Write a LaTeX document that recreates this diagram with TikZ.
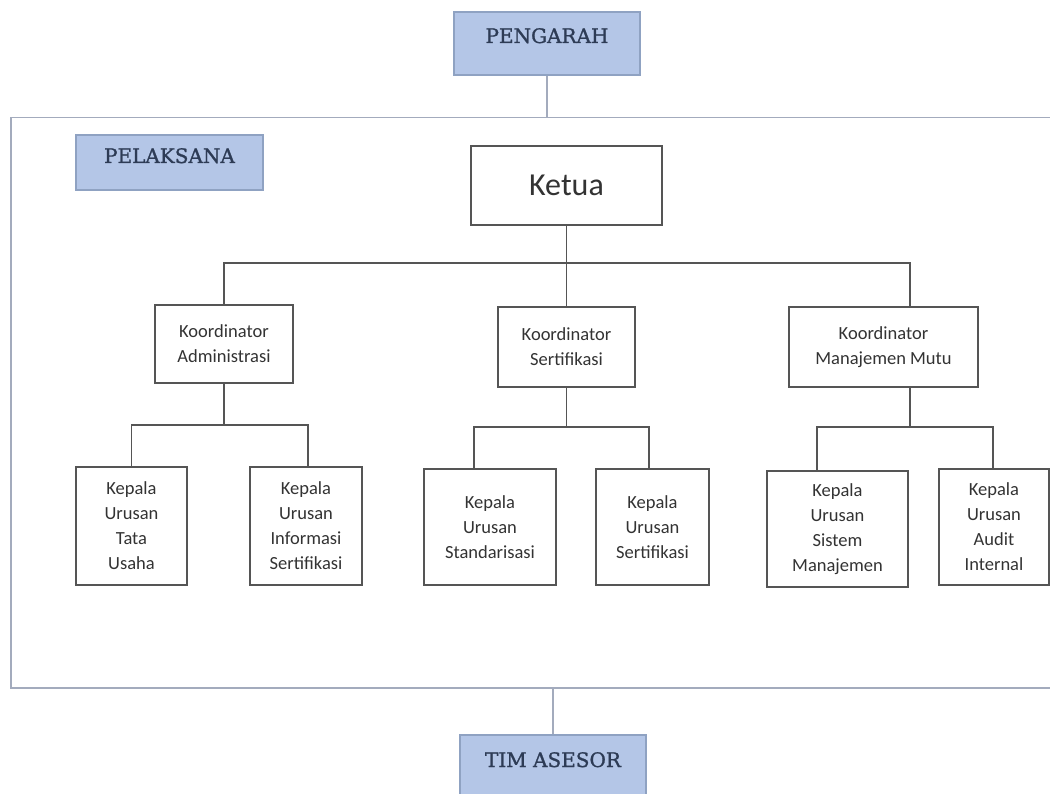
\documentclass[tikz,border=0pt]{standalone}
\usepackage{fontspec}
\setmainfont{Carlito}
\newfontfamily\hdfont[FakeBold=1.2]{DejaVu Serif}
\definecolor{boxfill}{HTML}{B4C6E7}
\definecolor{boxline}{HTML}{8FA2C2}
\definecolor{hdtext}{HTML}{2D3B55}
\definecolor{framec}{HTML}{A3ABBD}
\definecolor{linec}{HTML}{555555}
\definecolor{txtc}{HTML}{333333}
\begin{document}
\begin{tikzpicture}[x=1pt,y=-1pt,
  bluebox/.style={draw=boxline, fill=boxfill, line width=1.2pt, inner sep=0pt},
  hdlabel/.style={font=\hdfont\fontsize{20}{22}\selectfont, text=hdtext, inner sep=0pt, anchor=base},
  orgbox/.style={draw=linec, line width=1.2pt, fill=white, inner sep=0pt, align=center, text=txtc,
    font=\fontsize{18.5}{25}\selectfont},
  conn/.style={draw=linec, line width=1.3pt},
  fconn/.style={draw=framec, line width=1.2pt}]
\clip (0,0) rectangle (1050,794);
\fill[white] (0,0) rectangle (1050,794);

% outer frame (PELAKSANA area)
\node[draw=framec, line width=1.5pt, inner sep=0pt, minimum width=1060pt, minimum height=570pt, anchor=north west] (frame) at (10,117) {};

% blue header boxes
\node[bluebox, minimum width=186pt, minimum height=63pt] (peng) at (547,43.5) {};
\node[hdlabel] at (547,43) {PENGARAH};
\node[bluebox, minimum width=187pt, minimum height=55pt] (pel) at (169.5,162.5) {};
\node[hdlabel] at (169.5,163) {PELAKSANA};
\node[bluebox, minimum width=186pt, minimum height=70pt] (tim) at (553,770) {};
\node[hdlabel] at (553,767) {TIM ASESOR};

\draw[fconn] (peng.south) -- (peng.south |- frame.north);
\draw[fconn] (tim.north) -- (tim.north |- frame.south);

% Ketua
\node[orgbox, minimum width=191pt, minimum height=79pt, font=\fontsize{32}{36}\selectfont] (ketua) at (566.5,185.5) {Ketua};

% Koordinator
\node[orgbox, minimum width=138pt, minimum height=78pt] (ka) at (224,344) {Koordinator\\Administrasi};
\node[orgbox, minimum width=137pt, minimum height=80pt] (ks) at (566.5,347) {Koordinator\\Sertifikasi};
\node[orgbox, minimum width=189pt, minimum height=80pt] (km) at (883.5,347) {Koordinator\\Manajemen Mutu};

\coordinate (bus1) at (0,263);
\draw[conn] (ketua.south) -- (ketua.south |- bus1);
\draw[conn] (ka.north) -- (ka.north |- bus1) -- ([xshift=26.5pt]km.north |- bus1) -- ([xshift=26.5pt]km.north);
\draw[conn] (ks.north) -- (ks.north |- bus1);

% Kepala Urusan
\node[orgbox, minimum width=111pt, minimum height=118pt] (tu) at (131.5,526) {Kepala\\Urusan\\Tata\\Usaha};
\node[orgbox, minimum width=112pt, minimum height=118pt] (is) at (306,526) {Kepala\\Urusan\\Informasi\\Sertifikasi};
\node[orgbox, minimum width=132pt, minimum height=116pt] (st) at (490,527) {Kepala\\Urusan\\Standarisasi};
\node[orgbox, minimum width=113pt, minimum height=116pt] (se) at (652.5,527) {Kepala\\Urusan\\Sertifikasi};
\node[orgbox, minimum width=141pt, minimum height=116pt] (sm) at (837.5,529) {Kepala\\Urusan\\Sistem\\Manajemen};
\node[orgbox, minimum width=110pt, minimum height=116pt] (ai) at (994,527) {Kepala\\Urusan\\Audit\\Internal};

\coordinate (bus2) at (0,425);
\coordinate (bus3) at (0,427);
\draw[conn] (ka.south) -- (ka.south |- bus2);
\draw[conn] (tu.north) -- (tu.north |- bus2) -- ([xshift=2pt]is.north |- bus2) -- ([xshift=2pt]is.north);
\draw[conn] (ks.south) -- (ks.south |- bus3);
\draw[conn] ([xshift=-16pt]st.north) -- ([xshift=-16pt]st.north |- bus3) -- ([xshift=-3.5pt]se.north |- bus3) -- ([xshift=-3.5pt]se.north);
\draw[conn] ([xshift=26.5pt]km.south) -- ([xshift=26.5pt]km.south |- bus3);
\draw[conn] ([xshift=-20.5pt]sm.north) -- ([xshift=-20.5pt]sm.north |- bus3) -- ([xshift=-1pt]ai.north |- bus3) -- ([xshift=-1pt]ai.north);
\end{tikzpicture}
\end{document}
